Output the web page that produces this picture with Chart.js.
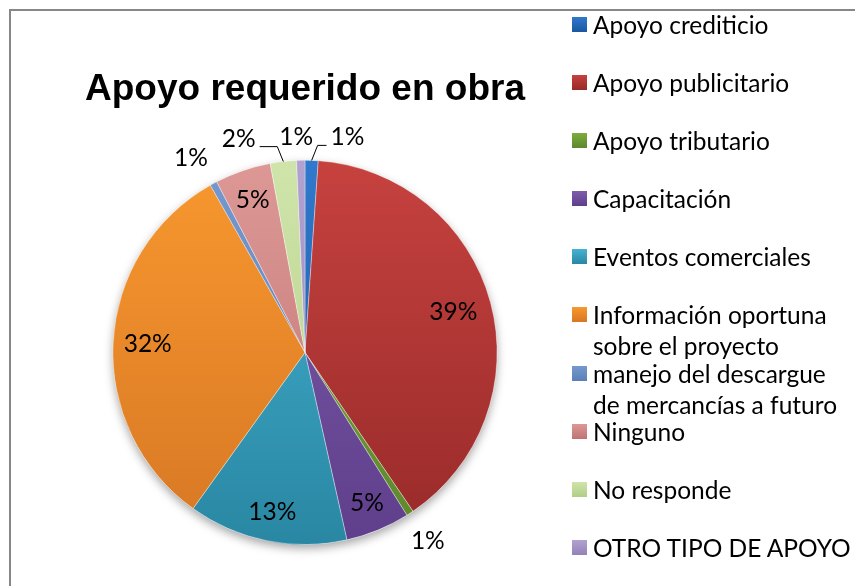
<!DOCTYPE html>
<html>
<head>
<meta charset="utf-8">
<title>Apoyo requerido en obra</title>
<script src="https://cdn.jsdelivr.net/npm/chart.js@4.4.0/dist/chart.umd.min.js"></script>
<style>
    html, body { margin: 0; padding: 0; background: #fff; overflow: hidden; }
    body { width: 855px; height: 586px; position: relative; font-family: Lato, 'Open Sans', sans-serif; }
    #frame { position: absolute; left: 9px; top: 9px; width: 900px; height: 640px; border: 2px solid #878787; box-sizing: border-box; }
    #chart-wrap { position: absolute; left: 0; top: 0; width: 600px; height: 586px; }
    #legend { position: absolute; left: 572px; top: 9px; margin: 0; padding: 0; list-style: none; }
    #legend li { height: 58.1px; line-height: 31px; font-size: 24.5px; color: #000; position: relative; padding-left: 21px; white-space: nowrap; }
    #legend .box { position: absolute; left: 0; top: 8px; width: 15px; height: 15px; box-sizing: border-box; }
</style>
</head>
<body>
<div id="frame"></div>
<div id="chart-wrap"><canvas id="pie-chart"></canvas></div>
<ul id="legend"></ul>

<script>
// Données du graphique
const categories = [
    'Apoyo crediticio',
    'Apoyo publicitario',
    'Apoyo tributario',
    'Capacitación',
    'Eventos comerciales',
    ['Información oportuna', 'sobre el proyecto'],
    ['manejo del descargue', 'de mercancías a futuro'],
    'Ninguno',
    'No responde',
    'OTRO TIPO DE APOYO'
];
const shares = [1.1, 39.4, 0.6, 5.4, 13.4, 31.9, 0.6, 4.7, 2.2, 0.7];

// Couleurs (haut clair / bas foncé pour imiter le relief Excel)
const topColors = ['#3079cc', '#c6423f', '#7eac3f', '#7d5cab', '#45b3d2', '#f8982f', '#7599cf', '#dd9896', '#cfe4aa', '#b2a2d1'];
const bottomColors = ['#1c56a0', '#972a29', '#5d872b', '#5f3f8c', '#2987a3', '#d77724', '#5a7fb6', '#be7472', '#b1cd86', '#9383b6'];
const legendColors = ['#2a6bc2', '#b33533', '#6e9a35', '#6f509c', '#3199b8', '#e9872b', '#6a8ec4', '#d08583', '#c0d999', '#a594c4'];

// Placement des étiquettes : dedans, dehors ou dehors avec ligne de rappel
const labelPlacement = [
    { mode: 'leader', r: 1.12, dx: 35, dy: 0 },
    { mode: 'in', r: 0.80 },
    { mode: 'out', r: 1.17, dx: 0, dy: 0 },
    { mode: 'in', r: 0.85 },
    { mode: 'in', r: 0.85 },
    { mode: 'in', r: 0.82 },
    { mode: 'out', r: 1.17, dx: -7, dy: 3 },
    { mode: 'in', r: 0.84 },
    { mode: 'leader', r: 1.12, dx: -42, dy: 0 },
    { mode: 'out', r: 1.12, dx: -4, dy: 0 }
];

const labelFont = '24.5px Lato, "Open Sans", sans-serif';

/**
 * Ombre portée sous le camembert
 */
const pieShadow = {
    id: 'pieShadow',
    beforeDatasetsDraw(chart) {
        const arc = chart.getDatasetMeta(0).data[0];
        if (!arc) return;
        const { x, y, outerRadius } = arc.getProps(['x', 'y', 'outerRadius'], true);
        const ctx = chart.ctx;
        ctx.save();
        ctx.shadowColor = 'rgba(0,0,0,0.35)';
        ctx.shadowBlur = 10;
        ctx.shadowOffsetY = 4;
        ctx.beginPath();
        ctx.arc(x, y, outerRadius, 0, Math.PI * 2);
        ctx.fillStyle = '#fff';
        ctx.fill();
        ctx.restore();
    }
};

/**
 * Étiquettes de pourcentage
 */
const pieLabels = {
    id: 'pieLabels',
    afterDatasetsDraw(chart) {
        const ctx = chart.ctx;
        const meta = chart.getDatasetMeta(0);
        const total = shares.reduce((a, b) => a + b, 0);
        ctx.save();
        ctx.font = labelFont;
        ctx.fillStyle = '#000';
        ctx.textAlign = 'center';
        ctx.textBaseline = 'middle';
        meta.data.forEach((arc, i) => {
            const { x, y, startAngle, endAngle, outerRadius } =
                arc.getProps(['x', 'y', 'startAngle', 'endAngle', 'outerRadius'], true);
            const mid = (startAngle + endAngle) / 2;
            const p = labelPlacement[i];
            const text = Math.round(shares[i] / total * 100) + '%';
            const lx = x + Math.cos(mid) * outerRadius * p.r + (p.dx || 0);
            const ly = y + Math.sin(mid) * outerRadius * p.r + (p.dy || 0);
            ctx.fillText(text, lx, ly);

            if (p.mode === 'leader') {
                const px = x + Math.cos(mid) * outerRadius;
                const py = y + Math.sin(mid) * outerRadius;
                const sign = lx > px ? 1 : -1;
                const tw = ctx.measureText(text).width;
                ctx.beginPath();
                ctx.moveTo(px, py);
                ctx.lineTo(px + sign * 6, ly + 8);
                ctx.lineTo(lx - sign * (tw / 2 + 4), ly + 8);
                ctx.strokeStyle = '#000';
                ctx.lineWidth = 1;
                ctx.stroke();
            }
        });
        ctx.restore();
    }
};

function sliceGradient(context) {
    const chart = context.chart;
    const area = chart.chartArea;
    const i = context.dataIndex;
    if (!area) return legendColors[i];
    const g = chart.ctx.createLinearGradient(0, area.top, 0, area.bottom);
    g.addColorStop(0, topColors[i]);
    g.addColorStop(1, bottomColors[i]);
    return g;
}

const ctx = document.getElementById('pie-chart').getContext('2d');
const pieChart = new Chart(ctx, {
    type: 'pie',
    data: {
        labels: categories,
        datasets: [{
            data: shares,
            backgroundColor: sliceGradient,
            borderColor: 'rgba(255,255,255,0.35)',
            borderWidth: 1
        }]
    },
    options: {
        responsive: true,
        maintainAspectRatio: false,
        animation: false,
        layout: {
            padding: { left: 10, right: 0, top: 0, bottom: 41 }
        },
        plugins: {
            legend: { display: false },
            tooltip: { enabled: false },
            title: {
                display: true,
                text: 'Apoyo requerido en obra',
                color: '#000',
                font: { family: 'Arial, "Liberation Sans", sans-serif', size: 37, weight: 'bold', lineHeight: 1.2 },
                padding: { top: 67.8, bottom: 47.6 }
            }
        }
    },
    plugins: [pieShadow, pieLabels]
});

// Légende HTML construite à partir des données du graphique
const legendEl = document.getElementById('legend');
pieChart.data.labels.forEach((label, i) => {
    const li = document.createElement('li');
    const box = document.createElement('span');
    box.className = 'box';
    box.style.background = `linear-gradient(${topColors[i]}, ${bottomColors[i]})`;
    li.appendChild(box);
    const lines = Array.isArray(label) ? label : [label];
    lines.forEach((line, k) => {
        if (k > 0) li.appendChild(document.createElement('br'));
        li.appendChild(document.createTextNode(line));
    });
    legendEl.appendChild(li);
});
</script>
</body>
</html>
